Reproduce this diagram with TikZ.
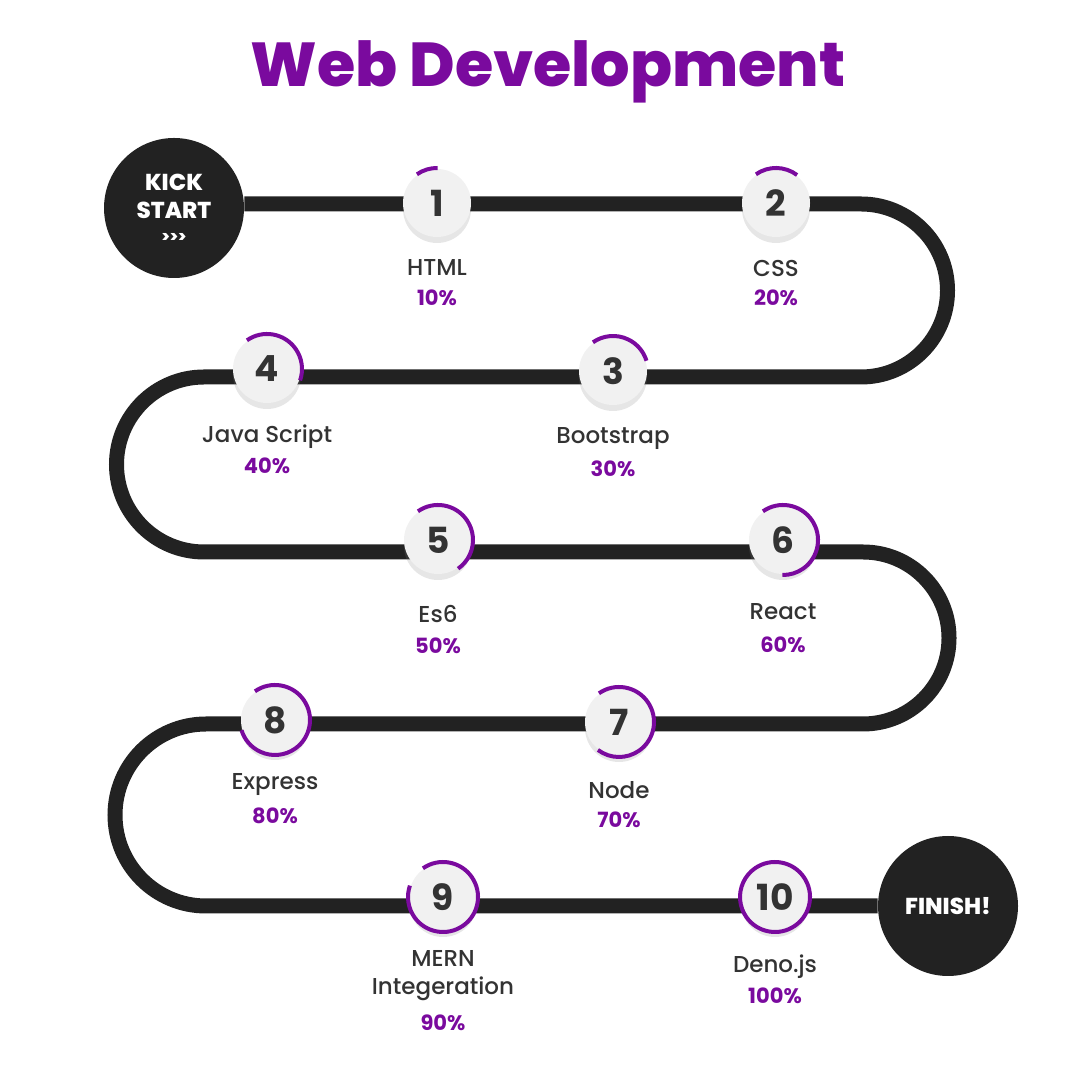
\documentclass[tikz,border=0pt]{standalone}
\usepackage{fontspec}
\setmainfont{Poppins}
\newfontfamily\labelfont{Poppins}[UprightFont=* Medium]
\newfontfamily\titlefont{Poppins}[UprightFont=* ExtraBold]
\usetikzlibrary{positioning,shadows,backgrounds}

\definecolor{webpurple}{RGB}{122,10,158}
\definecolor{roaddark}{RGB}{34,34,34}
\definecolor{labelgray}{RGB}{51,51,51}
\definecolor{discgray}{RGB}{241,241,241}

\tikzset{
  road/.style={line width=7.5pt, draw=roaddark},
  endpoint/.style={circle, fill=roaddark, minimum size=70pt, inner sep=0pt,
    text=white, align=center, font=\titlefont\fontsize{11.5}{14}\selectfont},
  stepdisc/.style={circle, fill=discgray, minimum size=34pt, inner sep=0pt,
    text=labelgray, font=\bfseries\fontsize{18}{18}\selectfont,
    drop shadow={shadow xshift=0pt, shadow yshift=-3pt, opacity=0.2}},
  steplabel/.style={text=labelgray, align=center, font=\labelfont\fontsize{11.5}{14}\selectfont},
  steppct/.style={text=webpurple, font=\bfseries\fontsize{10.5}{12}\selectfont},
  progress/.style={draw=webpurple, line width=2pt},
}

\begin{document}
\begin{tikzpicture}[x=0.5pt, y=0.5pt]
    \useasboundingbox (0,0) rectangle (1080,1080);

    % Title
    \node[text=webpurple, font=\titlefont\fontsize{31}{31}\selectfont] (title) at (548,1008) {Web Development};

    % Start and finish
    \node[endpoint] (kick) at (174,872) {KICK\\START\\[-2pt]{\fontsize{8}{10}\selectfont {>}{>}{>}}};
    \node[endpoint] (finish) at (948,174) {FINISH!};

    % Turning points of the road
    \coordinate (turnA) at (861,876);
    \coordinate (turnB) at (204,703);
    \coordinate (turnC) at (863,528);
    \coordinate (turnD) at (206,356);

    % Steps: number / x / y / label / label y / percent / percent y
    \foreach \n/\x/\y/\name/\ly/\p/\py in {
        1/437/877/HTML/812/10/782,
        2/776/877/CSS/812/20/782,
        3/613/709/Bootstrap/641/30/611,
        4/267/711/Java Script/643/40/614,
        5/438/540/Es6/466/50/434,
        6/783/540/React/468/60/435,
        7/619/358/Node/290/70/260,
        8/275/360/Express/295/80/264,
        9/443/183/MERN\\Integeration/104/90/57,
        10/775/183/Deno.js/113/100/84} {
        \node[stepdisc] (s\n) at (\x,\y) {\n};
        \node[steplabel] (l\n) at (\x,\ly) {\name};
        \node[steppct] (p\n) at (\x,\py) {\p\%};
        \draw[progress] (s\n) ++(125:35) arc[start angle=125, delta angle=-3.6*\p, radius=35];
    }

    % Road behind everything
    \begin{scope}[on background layer]
        \draw[road] (kick.east |- turnA) -- (turnA)
            arc[start angle=90, end angle=-90, radius=86.5] -- (turnB)
            arc[start angle=90, end angle=270, radius=87.5] -- (turnC)
            arc[start angle=90, end angle=-90, radius=86] -- (turnD)
            arc[start angle=90, end angle=270, radius=91] -- (finish);
    \end{scope}
\end{tikzpicture}
\end{document}
